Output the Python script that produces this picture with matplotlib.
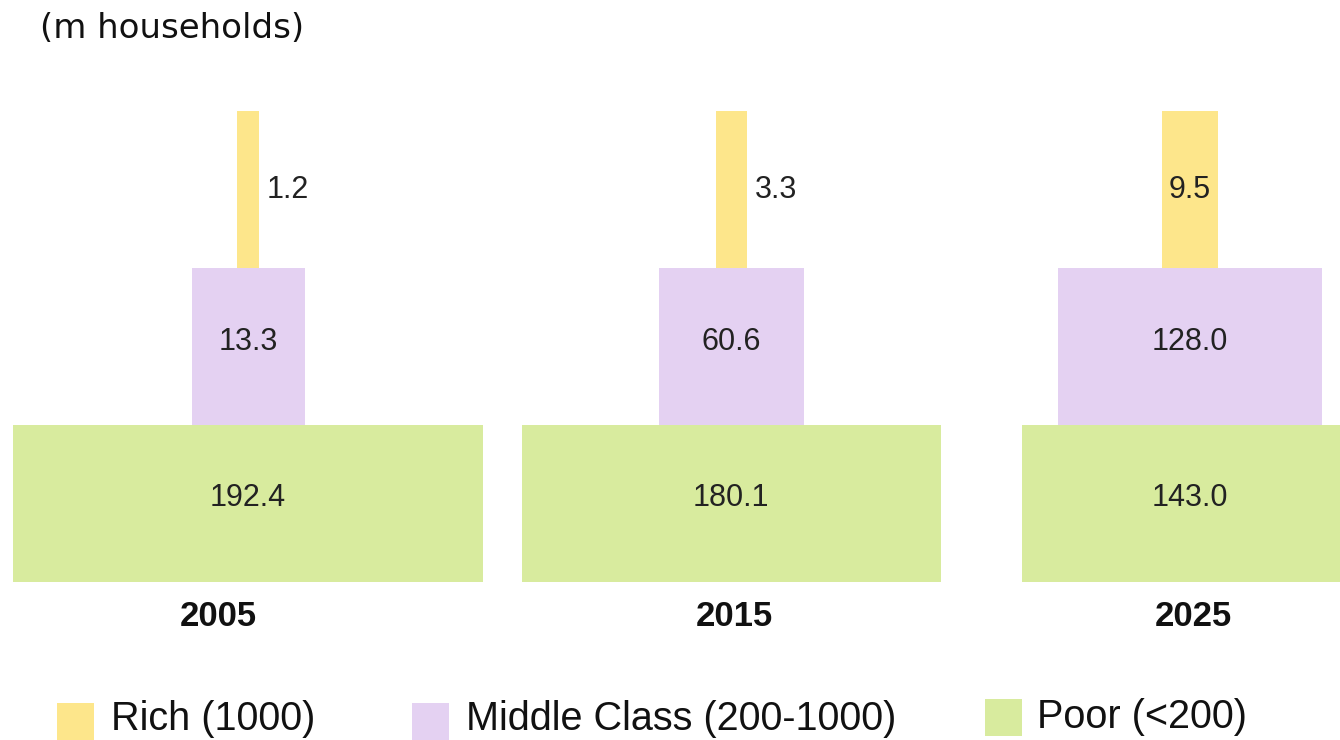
import matplotlib
matplotlib.use("Agg")
import matplotlib.pyplot as plt
from matplotlib.patches import Rectangle

years = ["2005", "2015", "2025"]
poor = [192.4, 180.1, 143.0]
middle = [13.3, 60.6, 128.0]
rich = [1.2, 3.3, 9.5]

series_names = ["Rich (1000)", "Middle Class (200-1000)", "Poor (<200)"]

# layout (pixels of a 1340x740 canvas)
W, H = 1340, 740
centers = [248, 731, 1190]
year_x = [218, 734, 1193]
poor_w = [470, 419, 336]
mid_w = [113, 145, 264]
rich_w = [22, 31, 56]
base = 158
tier_h = 157

c_rich = "#FDE68B"
c_mid = "#E4D1F2"
c_poor = "#D8EB9E"

fig = plt.figure(figsize=(W / 100, H / 100), dpi=100)
ax = fig.add_axes([0, 0, 1, 1])
ax.set_xlim(0, W)
ax.set_ylim(0, H)
ax.axis("off")

label_font = dict(family=["Liberation Sans", "DejaVu Sans"], fontsize=22, color="#222222")

tiers = [(poor, poor_w, c_poor), (middle, mid_w, c_mid), (rich, rich_w, c_rich)]
for level, (vals, widths, col) in enumerate(tiers):
    bottom = base + level * tier_h
    ax.bar(centers, tier_h, width=widths, bottom=bottom, color=col, linewidth=0)
    for cx, w, v in zip(centers, widths, vals):
        ymid = bottom + tier_h / 2
        if level < 2:
            ymid += 5
        if w < 40:
            ax.text(cx + w / 2 + 8, ymid, f"{v:.1f}", ha="left", va="center", **label_font)
        else:
            ax.text(cx, ymid, f"{v:.1f}", ha="center", va="center", **label_font)

for x, y in zip(year_x, years):
    ax.text(x, H - 617, y, ha="center", va="center", fontsize=25, fontweight="bold",
            family=["Liberation Sans", "DejaVu Sans"], color="#111111")

ax.text(40, H - 28, "(m households)", ha="left", va="center", fontsize=24.5,
        family="DejaVu Sans", color="#111111")

# legend
leg_sq = [(57, 703), (412, 703), (985, 699)]
leg_txt = [111, 466, 1037]
for (sx, sy), tx, name, col in zip(leg_sq, leg_txt, series_names, [c_rich, c_mid, c_poor]):
    ax.add_patch(Rectangle((sx, H - sy - 37), 37, 37, color=col, linewidth=0, clip_on=False))
    ty = H - sy - 16 if sx != 985 else H - sy - 18
    ax.text(tx, ty, name, ha="left", va="center", fontsize=28.5,
            family=["Liberation Sans", "DejaVu Sans"], color="#111111")

fig.savefig("out.png", dpi=100)
